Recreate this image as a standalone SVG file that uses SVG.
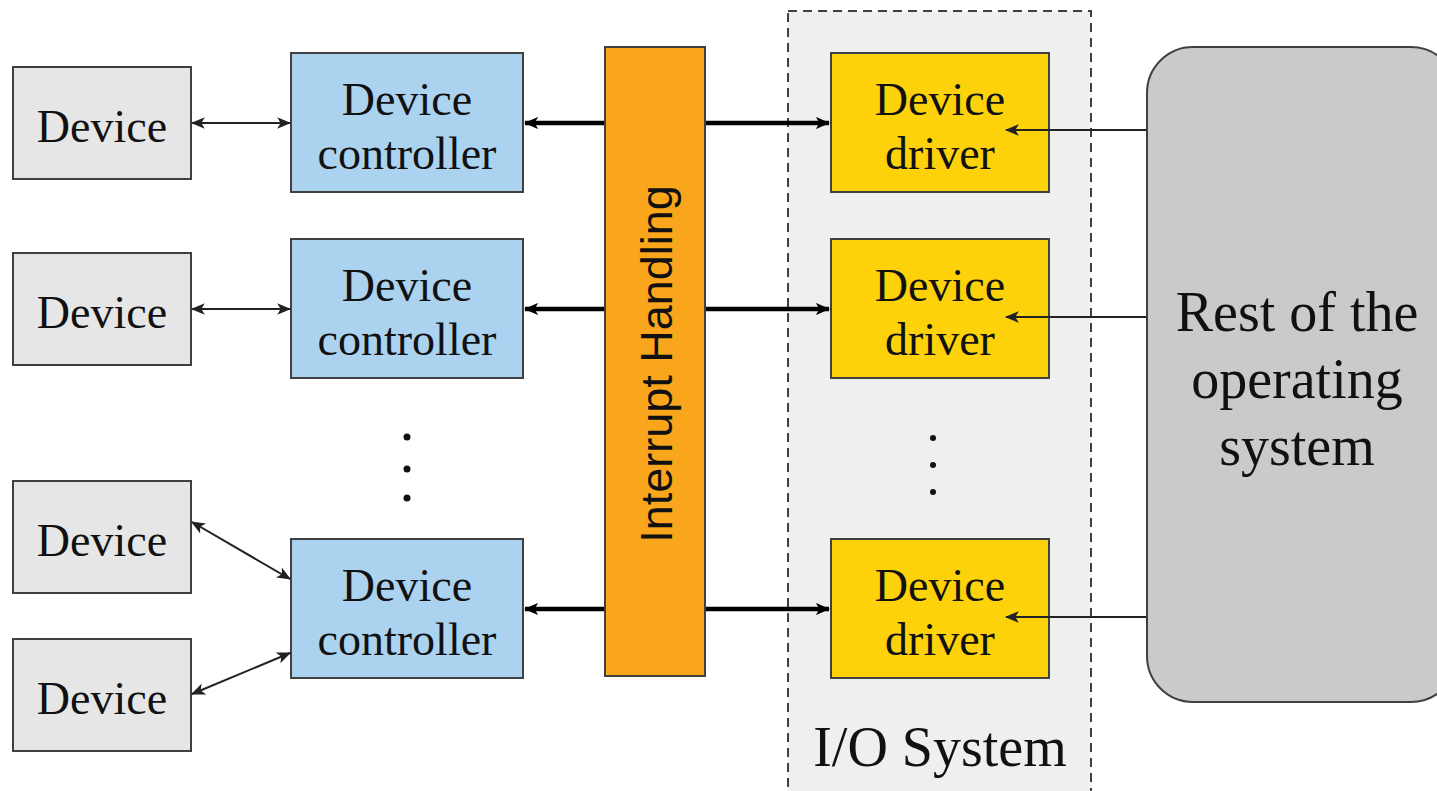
<svg xmlns="http://www.w3.org/2000/svg" width="1437" height="791" viewBox="0 0 1437 791">
<style>
.dev{fill:#e6e6e6;stroke:#404040;stroke-width:2}
.ctl{fill:#abd3f0;stroke:#404040;stroke-width:2}
.drv{fill:#fdd20a;stroke:#404040;stroke-width:2}
.t{font-family:"Liberation Serif","Times New Roman",serif;fill:#111;text-anchor:middle}
.t46{font-size:46px}
.t56{font-size:56px}
.thin{stroke:#222;stroke-width:2;fill:none}
.thick{stroke:#000;stroke-width:4.5;fill:none}
</style>
<defs>
<marker id="ah" viewBox="0 0 12 10" refX="11" refY="5" markerWidth="7" markerHeight="6" markerUnits="strokeWidth" orient="auto-start-reverse">
<path d="M0,0 L12,5 L0,10 L3,5 Z" fill="#222"/>
</marker>
<marker id="ahb" viewBox="0 0 12 10" refX="11" refY="5" markerWidth="3.2" markerHeight="2.8" markerUnits="strokeWidth" orient="auto-start-reverse">
<path d="M0,0 L12,5 L0,10 L3,5 Z" fill="#000"/>
</marker>
</defs>
<g id="io-system">
<rect x="788" y="11" width="303" height="790" fill="#efefef" stroke="#404040" stroke-width="2" stroke-dasharray="9,6"/>
<text class="t t56" x="940" y="766">I/O System</text>
</g>
<g id="rest-os">
<rect x="1147" y="47" width="310" height="655" rx="46" fill="#cacaca" stroke="#404040" stroke-width="2"/>
<text class="t t56" x="1297" y="331">Rest of the</text>
<text class="t t56" x="1297" y="398">operating</text>
<text class="t t56" x="1297" y="465">system</text>
</g>
<g id="interrupt">
<rect x="605" y="47" width="100" height="629" fill="#f9a61c" stroke="#404040" stroke-width="2"/>
<text x="672" y="364" transform="rotate(-90 672 364)" font-family="'Liberation Sans',Arial,sans-serif" font-size="45" text-anchor="middle" fill="#111">Interrupt Handling</text>
</g>
<g id="device1"><rect class="dev" x="13" y="67" width="178" height="112"/><text class="t t46" x="102" y="142">Device</text></g>
<g id="device2"><rect class="dev" x="13" y="253" width="178" height="112"/><text class="t t46" x="102" y="328">Device</text></g>
<g id="device3"><rect class="dev" x="13" y="481" width="178" height="112"/><text class="t t46" x="102" y="556">Device</text></g>
<g id="device4"><rect class="dev" x="13" y="639" width="178" height="112"/><text class="t t46" x="102" y="714">Device</text></g>
<g id="controller1"><rect class="ctl" x="291" y="53" width="232" height="139"/><text class="t t46" x="407" y="115">Device</text><text class="t t46" x="407" y="169">controller</text></g>
<g id="controller2"><rect class="ctl" x="291" y="239" width="232" height="139"/><text class="t t46" x="407" y="301">Device</text><text class="t t46" x="407" y="355">controller</text></g>
<g id="controller3"><rect class="ctl" x="291" y="539" width="232" height="139"/><text class="t t46" x="407" y="601">Device</text><text class="t t46" x="407" y="655">controller</text></g>
<g id="driver1"><rect class="drv" x="831" y="53" width="218" height="139"/><text class="t t46" x="940" y="115">Device</text><text class="t t46" x="940" y="169">driver</text></g>
<g id="driver2"><rect class="drv" x="831" y="239" width="218" height="139"/><text class="t t46" x="940" y="301">Device</text><text class="t t46" x="940" y="355">driver</text></g>
<g id="driver3"><rect class="drv" x="831" y="539" width="218" height="139"/><text class="t t46" x="940" y="601">Device</text><text class="t t46" x="940" y="655">driver</text></g>
<g id="ellipsis" fill="#111">
<circle cx="407" cy="437" r="3.5"/><circle cx="407" cy="469" r="3.5"/><circle cx="407" cy="498" r="3.5"/>
<circle cx="933" cy="438" r="3"/><circle cx="933" cy="465" r="3"/><circle cx="933" cy="492" r="3"/>
</g>
<g id="connectors">
<line class="thin" x1="192" y1="123" x2="290" y2="123" marker-start="url(#ah)" marker-end="url(#ah)"/>
<line class="thin" x1="192" y1="309" x2="290" y2="309" marker-start="url(#ah)" marker-end="url(#ah)"/>
<line class="thin" x1="192" y1="522" x2="290" y2="579" marker-start="url(#ah)" marker-end="url(#ah)"/>
<line class="thin" x1="192" y1="694" x2="290" y2="653" marker-start="url(#ah)" marker-end="url(#ah)"/>
<line class="thick" x1="604" y1="123" x2="525" y2="123" marker-end="url(#ahb)"/>
<line class="thick" x1="604" y1="309" x2="525" y2="309" marker-end="url(#ahb)"/>
<line class="thick" x1="604" y1="609" x2="525" y2="609" marker-end="url(#ahb)"/>
<line class="thick" x1="706" y1="123" x2="829" y2="123" marker-end="url(#ahb)"/>
<line class="thick" x1="706" y1="309" x2="829" y2="309" marker-end="url(#ahb)"/>
<line class="thick" x1="706" y1="609" x2="829" y2="609" marker-end="url(#ahb)"/>
<line class="thin" x1="1146" y1="130" x2="1006" y2="130" marker-end="url(#ah)"/>
<line class="thin" x1="1146" y1="317" x2="1006" y2="317" marker-end="url(#ah)"/>
<line class="thin" x1="1146" y1="617" x2="1006" y2="617" marker-end="url(#ah)"/>
</g>
</svg>
